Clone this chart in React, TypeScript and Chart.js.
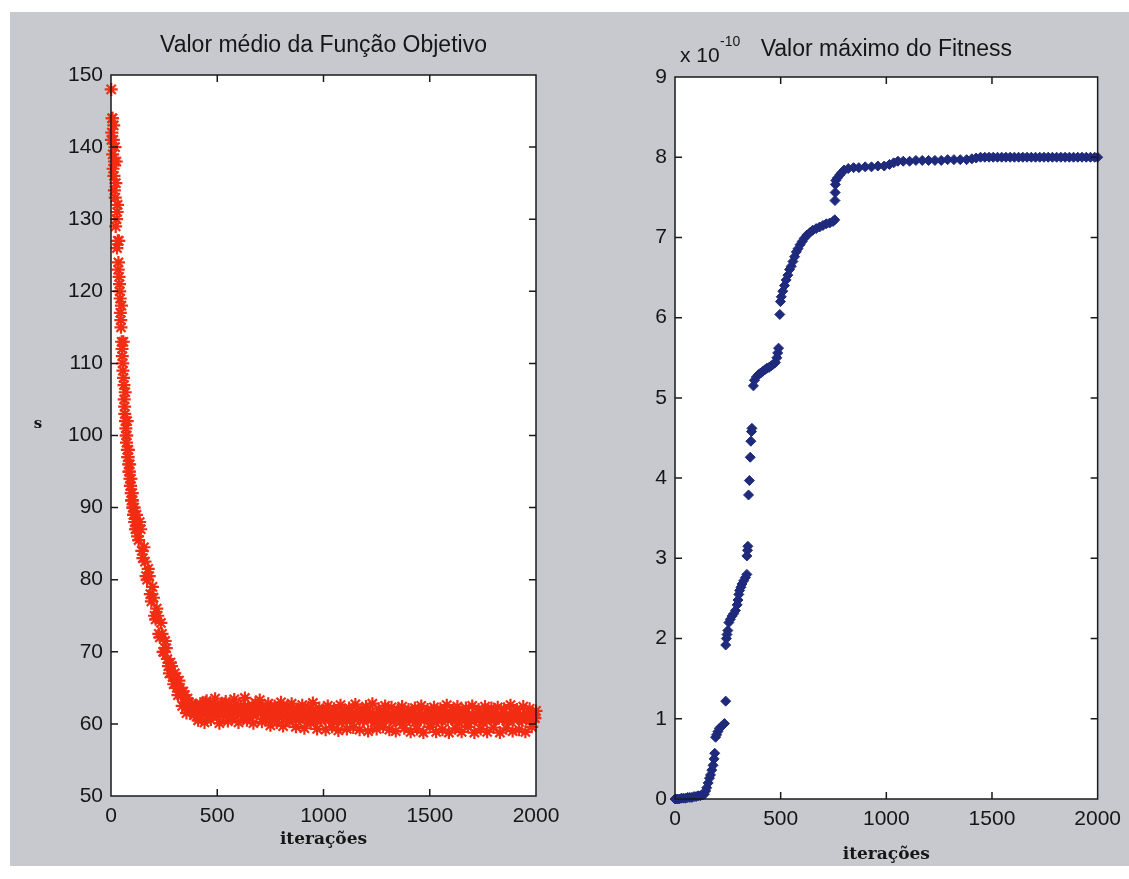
import React, { useEffect, useRef } from "react";
import { Chart, registerables } from "chart.js";

Chart.register(...registerables);

// ---------------- data ----------------
const X_TICKS = [0, 500, 1000, 1500, 2000];
const X_TICK_LABELS = ["0", "500", "1000", "1500", "2000"];
const OBJ_Y_TICKS = [50, 60, 70, 80, 90, 100, 110, 120, 130, 140, 150];
const FIT_Y_TICKS = [0, 1, 2, 3, 4, 5, 6, 7, 8, 9];

const OBJ_TITLE = "Valor médio da Função Objetivo";
const FIT_TITLE = "Valor máximo do Fitness";
const X_LABEL = "iterações";
const OBJ_Y_LABEL = "s";
const FIT_MULT_BASE = "x 10";
const FIT_MULT_EXP = "-10";

// mean objective value, first iterations
const OBJ_EARLY_ITER = [1, 4, 7, 10, 13, 16, 19, 22, 25, 28, 31, 34, 37, 40, 43, 46, 49, 52, 55, 58,
  61, 64, 67, 70, 73, 76, 79, 82, 85, 88, 91, 94, 97, 100, 103, 106, 109, 112, 115, 118];
const OBJ_EARLY_VAL = [148, 142, 144, 137, 143, 134, 140, 129, 138, 126, 132, 123, 127, 121, 119, 116, 118, 112, 110, 113,
  107, 104, 106, 101, 99, 102, 97, 98, 95, 96, 93, 94, 91, 92, 90, 89, 90, 88, 87, 88];
const OBJ_EARLY_ITER_B = [2, 5, 8, 11, 14, 17, 20, 23, 26, 29, 32, 35, 38, 41, 44, 47, 50, 53, 56, 59,
  62, 65, 68, 71, 74, 77, 80, 83, 86, 89, 92, 95, 98, 101, 104, 107, 110, 113, 116, 119];
const OBJ_EARLY_VAL_B = [141, 144, 139, 141, 136, 138, 133, 135, 130, 131, 127, 124, 122, 120, 117, 115, 113, 111, 109, 108,
  105, 103, 102, 100, 100, 98, 97, 96, 95, 94, 93, 92, 91, 91, 90, 89, 89, 88, 88, 87];

// mean objective value, sampled every 10 iterations from 120 to 2000
const OBJ_LATE_START = 120;
const OBJ_LATE_STEP = 10;
const OBJ_LATE_VAL = [
  89, 85.5, 87, 83, 82.5, 80, 80.5, 77, 77.5, 74.5,
  75, 72, 72.5, 70, 70.5, 68, 68.5, 66.5, 67, 65,
  66, 64, 64.5, 63, 63.5, 62, 62.8, 61.2, 62.5, 60.5,
  62.8, 61.4, 60.2, 63.2, 61.8, 60.6, 62.4, 63.5, 61.1, 60.1,
  62.7, 61.3, 63.1, 60.4, 62.0, 60.8, 63.4, 61.7, 60.2, 62.5,
  61.0, 63.6, 60.5, 62.2, 61.4, 60.1, 62.9, 61.6, 63.3, 60.3,
  62.1, 60.8, 62.8, 59.8, 61.3, 62.5, 60.2, 61.7, 63.0, 59.7,
  61.1, 62.4, 60.3, 62.8, 61.5, 59.6, 62.0, 60.7, 62.6, 59.4,
  61.0, 62.3, 60.1, 62.9, 61.4, 59.3, 62.2, 60.5, 61.7, 59.2,
  62.5, 60.8, 59.6, 62.1, 61.2, 59.1, 62.6, 60.4, 61.6, 59.3,
  62.2, 60.9, 59.5, 62.7, 61.3, 59.2, 62.0, 60.6, 62.4, 59.0,
  61.5, 62.8, 60.2, 59.3, 62.1, 60.9, 59.6, 62.5, 61.1, 59.2,
  62.3, 60.7, 59.0, 61.9, 60.3, 62.4, 59.4, 61.2, 62.0, 58.9,
  60.6, 62.2, 59.3, 61.6, 62.5, 58.8, 60.9, 62.0, 59.6, 61.3,
  62.3, 58.9, 60.5, 62.1, 59.2, 61.4, 62.6, 58.8, 60.8, 61.9,
  59.4, 62.4, 60.2, 58.9, 61.7, 62.2, 59.6, 60.7, 62.5, 58.8,
  61.2, 62.0, 59.3, 60.5, 62.4, 58.9, 61.6, 62.2, 59.5, 60.8,
  62.3, 58.8, 61.0, 62.1, 59.4, 60.6, 62.6, 59.0, 61.5, 62.0,
  59.2, 60.7, 62.4, 58.9, 61.3, 62.1, 59.6, 60.9, 61.8,
];
// mean objective value, sampled every 10 iterations from 125 to 1995
const OBJ_MID_START = 125;
const OBJ_MID_STEP = 10;
const OBJ_MID_VAL = [
  86, 88, 84, 84.5, 80.5, 81.5, 78, 79, 75, 76,
  72.5, 74, 70, 71.5, 69, 67, 68, 65.5, 66.5, 64,
  65, 62.5, 64, 61.5, 63, 61.8, 62.2, 61.4,
  61.8, 62.3, 61.5, 62.0, 63.0, 61.2, 62.6, 61.6, 62.1, 61.9,
  61.7, 62.4, 61.3, 62.8, 61.9, 61.4, 62.2, 61.8, 62.7, 61.5,
  62.0, 61.6, 62.3, 61.2, 62.5, 61.8, 61.4, 62.1, 61.7, 62.6,
  61.5, 61.9, 61.2, 62.3, 61.0, 61.6, 62.0, 60.9, 61.4, 62.2,
  61.1, 61.7, 60.8, 61.5, 62.0, 60.9, 61.3, 61.8, 60.7, 61.4,
  61.9, 60.8, 61.2, 60.5, 61.6, 61.0, 60.6, 61.5, 60.9, 61.3,
  60.7, 61.4, 60.9, 61.0, 60.4, 61.6, 60.8, 61.2, 60.6, 61.5,
  60.9, 61.3, 60.5, 61.1, 60.7, 61.4, 60.8, 61.0, 60.5, 61.6,
  60.8, 61.2, 60.6, 61.4, 60.7, 61.1, 60.9, 60.4, 61.5, 60.8,
  61.0, 60.6, 61.3, 60.5, 61.2, 60.8, 60.4, 61.1, 60.7, 61.3,
  60.6, 61.0, 60.8, 60.3, 61.2, 60.7, 61.1, 60.5, 60.9, 61.3,
  60.7, 60.4, 61.1, 60.8, 61.2, 60.5, 60.9, 61.3, 60.6, 61.0,
  60.8, 61.2, 60.5, 61.0, 60.7, 61.3, 60.6, 60.9, 61.1, 60.4,
  61.0, 60.7, 61.2, 60.6, 60.9, 61.3, 60.5, 61.0, 60.8, 61.2,
  60.6, 61.1, 60.8, 61.3, 60.7, 61.0, 60.5, 61.2, 60.9, 60.6,
  61.1, 60.8, 61.3, 60.6, 61.0, 60.7, 61.2, 60.9, 61.4, 60.8,
];

// maximum fitness (units of 1e-10)
const FIT_ITER = [
  0, 10, 20, 30, 40, 50, 60, 70, 80, 90, 100, 110, 120, 130,
  139, 145, 150, 157, 163, 168, 174, 180, 185, 188,
  192, 197, 203, 210, 218, 226, 234,
  240,
  240, 243, 246, 250, 255, 262, 270, 278, 286, 294, 298, 302, 306, 312, 317, 325, 333, 340,
  340, 343, 345,
  348, 352,
  356, 359, 362, 364,
  371, 376, 385, 395, 405, 415, 425, 435, 445, 455, 465, 475, 482, 486, 490,
  496, 499, 503, 510, 518, 526, 534, 542, 550, 558, 566, 574, 582, 592, 602, 612, 624, 638, 652, 668, 684, 700, 716, 732, 748, 756,
  757, 758, 759, 761, 768, 780, 790, 800, 820, 845, 870, 900, 930, 960, 990, 1015, 1035, 1055, 1080, 1110, 1140, 1170, 1200, 1230, 1260, 1290, 1320, 1350, 1380, 1405, 1425,
  1446, 1466, 1486, 1506, 1526, 1546, 1566, 1586, 1606, 1626, 1646, 1666, 1686, 1706, 1726, 1746, 1766, 1786, 1806, 1826, 1846, 1866, 1886, 1906, 1926, 1946, 1966, 1986, 2000,
];
const FIT_VAL = [
  0, 0, 0, 0.01, 0.01, 0.01, 0.02, 0.02, 0.02, 0.03, 0.03, 0.04, 0.04, 0.05,
  0.06, 0.1, 0.14, 0.2, 0.26, 0.3, 0.36, 0.42, 0.5, 0.57,
  0.77, 0.8, 0.84, 0.88, 0.9, 0.92, 0.94,
  1.22,
  1.92, 2.0, 2.05, 2.1, 2.2, 2.24, 2.28, 2.31, 2.35, 2.42, 2.48, 2.55, 2.6, 2.64, 2.68, 2.72, 2.76, 2.8,
  3.03, 3.1, 3.15,
  3.79, 3.97,
  4.26, 4.46, 4.58, 4.62,
  5.15, 5.22, 5.26, 5.29, 5.31, 5.33, 5.35, 5.37, 5.38, 5.4, 5.42, 5.44, 5.5, 5.56, 5.62,
  6.04, 6.2, 6.26, 6.33, 6.4, 6.47, 6.53, 6.6, 6.64, 6.7, 6.76, 6.82, 6.86, 6.91, 6.95, 6.99, 7.03, 7.06, 7.09, 7.11, 7.13, 7.15, 7.17, 7.18, 7.2, 7.22,
  7.46, 7.56, 7.66, 7.71, 7.74, 7.78, 7.81, 7.84, 7.86, 7.87, 7.87, 7.88, 7.88, 7.89, 7.89, 7.91, 7.93, 7.95, 7.95, 7.95, 7.96, 7.96, 7.96, 7.96, 7.96, 7.97, 7.97, 7.97, 7.97, 7.98, 7.99,
  8, 8, 8, 8, 8, 8, 8, 8, 8, 8,
  8, 8, 8, 8, 8, 8, 8, 8, 8, 8,
  8, 8, 8, 8, 8, 8, 8, 8, 8,
];

// ---------------- layout / style ----------------
const PAGE_W = 1129;
const PAGE_H = 879;
const BG_GREY = "rgb(199,201,207)";
const SANS = "'Liberation Sans', Arial, Helvetica, sans-serif";
const SERIF = "'DejaVu Serif', 'Liberation Serif', serif";
const INK = "#161616";

type Frame = { left: number; top: number; right: number; bottom: number; titleY: number; xLabelY: number };
const LEFT_FRAME: Frame = { left: 111, top: 75, right: 536, bottom: 796, titleY: 46, xLabelY: 840 };
const RIGHT_FRAME: Frame = { left: 675, top: 77, right: 1106, bottom: 799, titleY: 50, xLabelY: 855 };

type TextItem = { text: string; x: number; y: number; font: string; align: CanvasTextAlign };

const matlabAxesPlugin = {
  id: "matlabAxes",
  beforeDraw(chart: any) {
    const { ctx, chartArea: a } = chart;
    ctx.save();
    ctx.fillStyle = "#ffffff";
    ctx.fillRect(a.left, a.top, a.right - a.left, a.bottom - a.top);
    ctx.restore();
  },
  afterDatasetsDraw(chart: any, _args: any, opts: any) {
    const { ctx, chartArea: a, scales } = chart;
    const L = 7;
    ctx.save();
    ctx.strokeStyle = "#1a1a1a";
    ctx.lineWidth = 1.5;
    ctx.strokeRect(a.left, a.top, a.right - a.left, a.bottom - a.top);
    ctx.beginPath();
    for (const t of scales.x.ticks) {
      const px = scales.x.getPixelForValue(t.value);
      if (px <= a.left + 1 || px >= a.right - 1) continue;
      ctx.moveTo(px, a.bottom);
      ctx.lineTo(px, a.bottom - L);
      ctx.moveTo(px, a.top);
      ctx.lineTo(px, a.top + L);
    }
    for (const t of scales.y.ticks) {
      const py = scales.y.getPixelForValue(t.value);
      if (py <= a.top + 1 || py >= a.bottom - 1) continue;
      ctx.moveTo(a.left, py);
      ctx.lineTo(a.left + L, py);
      ctx.moveTo(a.right, py);
      ctx.lineTo(a.right - L, py);
    }
    ctx.stroke();
    const texts: TextItem[] = (opts && opts.texts) || [];
    for (const it of texts) {
      ctx.font = it.font;
      ctx.fillStyle = INK;
      ctx.textAlign = it.align;
      ctx.textBaseline = "middle";
      ctx.fillText(it.text, it.x, it.y);
    }
    ctx.restore();
  },
};

function makeConfig(opts: {
  frame: Frame;
  title: string;
  points: { x: number; y: number }[];
  yTicks: number[];
  yMin: number;
  yMax: number;
  pointStyle: string;
  radius: number;
  borderWidth: number;
  color: string;
  texts: TextItem[];
}) {
  const f = opts.frame;
  const titleFont = 23;
  const titleLH = titleFont * 1.2;
  const padTop = f.titleY - titleLH / 2;
  const padBottom = f.top - padTop - titleLH;
  const xLabelFont = 17;
  const xLabelLH = xLabelFont * 1.2;
  const xScaleH = f.xLabelY + xLabelLH / 2 - f.bottom;
  const layoutBottom = PAGE_H - f.bottom - xScaleH;
  return {
    type: "scatter",
    data: {
      datasets: [
        {
          data: opts.points,
          showLine: false,
          pointStyle: opts.pointStyle,
          pointRadius: opts.radius,
          pointBorderWidth: opts.borderWidth,
          borderColor: opts.color,
          backgroundColor: opts.color,
          clip: false,
        },
      ],
    },
    options: {
      responsive: false,
      animation: false,
      events: [],
      layout: { padding: { left: 0, right: PAGE_W - f.right, top: 0, bottom: layoutBottom } },
      plugins: {
        legend: { display: false },
        tooltip: { enabled: false },
        title: {
          display: true,
          text: opts.title,
          fullSize: false,
          color: INK,
          font: { family: SANS, size: titleFont, weight: "normal", lineHeight: 1.2 },
          padding: { top: padTop, bottom: padBottom },
        },
        matlabAxes: { texts: opts.texts },
      },
      scales: {
        x: {
          type: "linear",
          min: 0,
          max: 2000,
          afterBuildTicks: (axis: any) => {
            axis.ticks = X_TICKS.map((v) => ({ value: v }));
          },
          afterFit: (axis: any) => {
            axis.height = xScaleH;
          },
          grid: { display: false, drawTicks: false },
          border: { display: false },
          ticks: {
            autoSkip: false,
            maxRotation: 0,
            padding: 8,
            color: INK,
            font: { family: SANS, size: 21 },
            callback: (_v: any, i: number) => X_TICK_LABELS[i],
          },
          title: {
            display: true,
            text: X_LABEL,
            color: INK,
            padding: 0,
            font: { family: SERIF, size: xLabelFont, weight: "bold", lineHeight: 1.2 },
          },
        },
        y: {
          type: "linear",
          min: opts.yMin,
          max: opts.yMax,
          afterBuildTicks: (axis: any) => {
            axis.ticks = opts.yTicks.map((v) => ({ value: v }));
          },
          afterFit: (axis: any) => {
            axis.width = f.left;
          },
          grid: { display: false, drawTicks: false },
          border: { display: false },
          ticks: {
            autoSkip: false,
            padding: 8,
            color: INK,
            font: { family: SANS, size: 21 },
            callback: (v: any) => String(v),
          },
        },
      },
    },
    plugins: [matlabAxesPlugin],
  } as any;
}

export default function App() {
  const leftRef = useRef<HTMLCanvasElement | null>(null);
  const rightRef = useRef<HTMLCanvasElement | null>(null);

  useEffect(() => {
    const objPoints = [
      ...OBJ_EARLY_ITER.map((x, i) => ({ x, y: OBJ_EARLY_VAL[i] })),
      ...OBJ_EARLY_ITER_B.map((x, i) => ({ x, y: OBJ_EARLY_VAL_B[i] })),
      ...OBJ_LATE_VAL.map((y, i) => ({ x: OBJ_LATE_START + i * OBJ_LATE_STEP, y })),
      ...OBJ_MID_VAL.map((y, i) => ({ x: OBJ_MID_START + i * OBJ_MID_STEP, y })),
    ].sort((a, b) => a.x - b.x);
    const n = Math.min(FIT_ITER.length, FIT_VAL.length);
    const fitPoints = FIT_ITER.slice(0, n).map((x, i) => ({ x, y: FIT_VAL[i] }));

    const left = new Chart(
      leftRef.current as HTMLCanvasElement,
      makeConfig({
        frame: LEFT_FRAME,
        title: OBJ_TITLE,
        points: objPoints,
        yTicks: OBJ_Y_TICKS,
        yMin: 50,
        yMax: 150,
        pointStyle: "star",
        radius: 6.5,
        borderWidth: 2.2,
        color: "#f22d14",
        texts: [{ text: OBJ_Y_LABEL, x: 38, y: 424, font: `bold 15px ${SERIF}`, align: "center" }],
      })
    );
    const right = new Chart(
      rightRef.current as HTMLCanvasElement,
      makeConfig({
        frame: RIGHT_FRAME,
        title: FIT_TITLE,
        points: fitPoints,
        yTicks: FIT_Y_TICKS,
        yMin: 0,
        yMax: 9,
        pointStyle: "rectRot",
        radius: 5,
        borderWidth: 1,
        color: "#1f2a7c",
        texts: [
          { text: FIT_MULT_BASE, x: 680, y: 56, font: `21px ${SANS}`, align: "left" },
          { text: FIT_MULT_EXP, x: 720, y: 42, font: `14px ${SANS}`, align: "left" },
        ],
      })
    );
    return () => {
      left.destroy();
      right.destroy();
    };
  }, []);

  return (
    <div
      style={{
        position: "absolute",
        left: 0,
        top: 0,
        width: PAGE_W,
        height: PAGE_H,
        background: "#ffffff",
        overflow: "hidden",
      }}
    >
      <div style={{ position: "absolute", left: 10, top: 12, width: PAGE_W - 10, height: 854, background: BG_GREY }} />
      <canvas ref={leftRef} width={PAGE_W} height={PAGE_H} style={{ position: "absolute", left: 0, top: 0 }} />
      <canvas ref={rightRef} width={PAGE_W} height={PAGE_H} style={{ position: "absolute", left: 0, top: 0 }} />
    </div>
  );
}
